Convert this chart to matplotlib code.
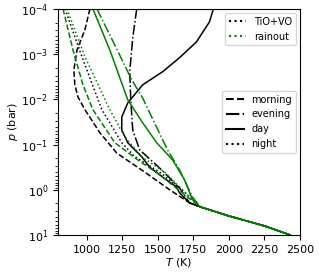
import matplotlib
matplotlib.use("Agg")
import matplotlib.pyplot as plt
from matplotlib.lines import Line2D

# temperature (K) and log10 pressure (bar)
deep_T = [1800, 2000, 2250, 2430]
deep_logp = [0.38, 0.58, 0.80, 1.00]

tio_morning_T = [1024, 989, 933, 911, 918, 940, 989, 1094, 1213, 1409, 1584, 1724]
tio_morning_logp = [-4, -3.54, -3.09, -2.65, -2.32, -2.05, -1.77, -1.26, -0.81, -0.39, 0.0, 0.29]

tio_evening_T = [1353, 1325, 1304, 1311, 1325, 1374, 1514, 1654, 1724]
tio_evening_logp = [-4, -3.36, -2.61, -1.99, -1.32, -0.88, -0.48, -0.04, 0.29]

tio_day_T = [1892, 1864, 1773, 1654, 1535, 1395, 1290, 1248, 1248, 1290, 1388, 1444, 1535, 1633, 1654, 1724]
tio_day_logp = [-4, -3.71, -3.27, -2.92, -2.61, -2.32, -1.92, -1.61, -1.32, -1.04, -0.73, -0.50, -0.28, -0.06, 0.07, 0.29]

tio_night_T = [849, 968, 1108, 1248, 1339, 1514, 1689]
tio_night_logp = [-4, -2.94, -1.77, -1.04, -0.73, -0.39, 0.05]

rain_morning_T = [835, 905, 975, 1045, 1199, 1360, 1514, 1689]
rain_morning_logp = [-4, -3.09, -2.32, -1.77, -1.04, -0.66, -0.33, 0.11]

rain_evening_T = [1073, 1199, 1318, 1395, 1458, 1570, 1654, 1745]
rain_evening_logp = [-4, -3.2, -2.43, -2.03, -1.61, -0.88, -0.44, 0.16]

rain_day_T = [1045, 1164, 1290, 1395, 1493, 1605, 1689, 1745]
rain_day_logp = [-4, -3.09, -1.99, -1.48, -1.04, -0.66, -0.22, 0.22]

rain_night_T = [863, 989, 1164, 1269, 1388, 1549, 1710]
rain_night_logp = [-4, -2.94, -1.77, -1.17, -0.73, -0.39, 0.11]

plt.rcParams['font.size'] = 8

fig = plt.figure(figsize=(3.19, 2.78), dpi=100)
ax = fig.add_axes([0.182, 0.155, 0.758, 0.813])

styles = {"morning": "--", "evening": "-.", "day": "-", "night": ":"}

profiles = [
    ("k", "morning", tio_morning_T, tio_morning_logp),
    ("k", "evening", tio_evening_T, tio_evening_logp),
    ("k", "day", tio_day_T, tio_day_logp),
    ("k", "night", tio_night_T, tio_night_logp),
    ("green", "morning", rain_morning_T, rain_morning_logp),
    ("green", "evening", rain_evening_T, rain_evening_logp),
    ("green", "day", rain_day_T, rain_day_logp),
    ("green", "night", rain_night_T, rain_night_logp),
]

for color, limb, T, logp in profiles:
    TT = T + deep_T
    pp = [10 ** v for v in logp + deep_logp]
    ax.plot(TT, pp, color=color, ls=styles[limb], lw=1.1)

ax.set_yscale("log")
ax.set_ylim(10, 1e-4)
ax.set_xlim(800, 2500)
ax.set_xticks([1000, 1250, 1500, 1750, 2000, 2250, 2500])
ax.set_xlabel("$T$ (K)", labelpad=1)
ax.set_ylabel("$p$ (bar)", labelpad=1)

leg1 = ax.legend([Line2D([], [], color="k", ls=":"), Line2D([], [], color="green", ls=":")],
                 ["TiO+VO", "rainout"], loc="upper right", fontsize=7,
                 handlelength=1.8, borderaxespad=0.4)
ax.add_artist(leg1)
ax.legend([Line2D([], [], color="k", ls=styles[k]) for k in styles], list(styles),
          loc="center right", bbox_to_anchor=(1.0, 0.5), fontsize=7,
          handlelength=1.8, borderaxespad=0.4)

plt.savefig("out.png", dpi=100)
